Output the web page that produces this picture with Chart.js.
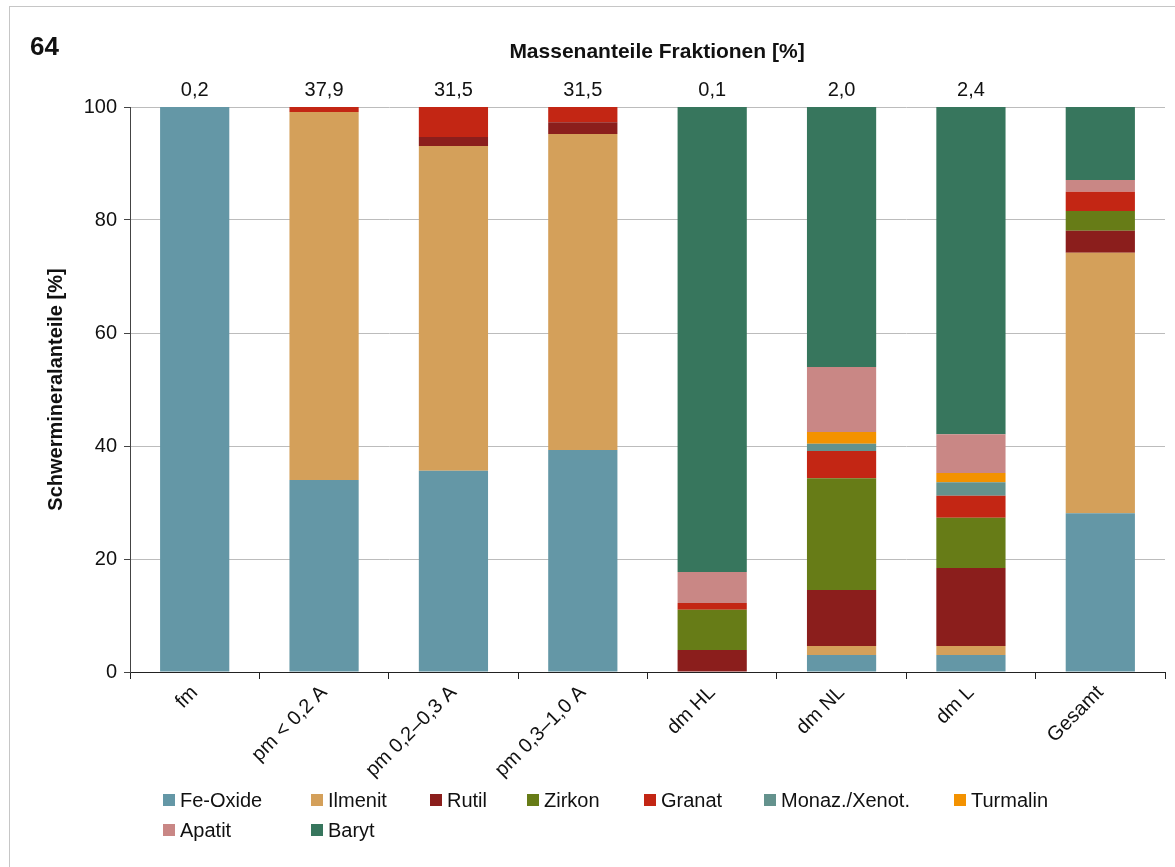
<!DOCTYPE html>
<html>
<head>
<meta charset="utf-8">
<script src="https://cdn.jsdelivr.net/npm/chart.js@4.4.1/dist/chart.umd.min.js"></script>
<style>
    body { margin: 0; background: #fff; font-family: "Liberation Sans", Arial, sans-serif; }
    #wrap { position: relative; width: 1175px; height: 867px; overflow: hidden; }
    #frame { position: absolute; left: 9px; top: 6px; width: 1200px; height: 900px; border: 1px solid #c6c6c6; }
    canvas { position: absolute; left: 0; top: 0; }
    #legend {
        position: absolute; left: 163px; top: 788px;
        display: grid; grid-template-columns: 148px 119px 97px 117px 120px 190px 120px;
        row-gap: 6px; font-size: 20px; color: #111;
    }
    .item { display: flex; align-items: center; white-space: nowrap; height: 24px; }
    .box { width: 12px; height: 12px; margin-right: 5px; }
</style>
</head>
<body>
<div id="wrap">
    <div id="frame"></div>
    <canvas id="chart" width="1175" height="867"></canvas>
    <div id="legend"></div>
</div>
<script>
// --- data ---
const categories = ['fm', 'pm < 0,2 A', 'pm 0,2–0,3 A', 'pm 0,3–1,0 A', 'dm HL', 'dm NL', 'dm L', 'Gesamt'];
const massenanteile = [0.2, 37.9, 31.5, 31.5, 0.1, 2.0, 2.4, null];

const feOxide   = [100, 34.0, 35.6, 39.3, 0,    3.0,  3.0,  28.1];
const ilmenit   = [0,   65.1, 57.5, 55.9, 0,    1.6,  1.6,  46.1];
const rutil     = [0,   0,    1.6,  2.1,  3.9,  9.9,  13.8, 3.9];
const zirkon    = [0,   0,    0,    0,    7.1,  19.8, 8.9,  3.5];
const granat    = [0,   0.9,  5.3,  2.7,  1.2,  4.8,  3.9,  3.4];
const monazXen  = [0,   0,    0,    0,    0,    1.3,  2.4,  0];
const turmalin  = [0,   0,    0,    0,    0,    2.1,  1.6,  0];
const apatit    = [0,   0,    0,    0,    5.5,  11.5, 6.9,  2.1];
const baryt     = [0,   0,    0,    0,    82.3, 46.0, 57.9, 12.9];

const yTicks = [0, 20, 40, 60, 80, 100];

const series = [
    { label: 'Fe-Oxide',       data: feOxide,  color: '#6497a6' },
    { label: 'Ilmenit',        data: ilmenit,  color: '#d4a05a' },
    { label: 'Rutil',          data: rutil,    color: '#8b1e1c' },
    { label: 'Zirkon',         data: zirkon,   color: '#677c17' },
    { label: 'Granat',         data: granat,   color: '#c32614' },
    { label: 'Monaz./Xenot.',  data: monazXen, color: '#64928d' },
    { label: 'Turmalin',       data: turmalin, color: '#f39200' },
    { label: 'Apatit',         data: apatit,   color: '#c98785' },
    { label: 'Baryt',          data: baryt,    color: '#37765d' }
];

const FONT = '"Liberation Sans", Arial, sans-serif';

// --- extra texts: panel number, top axis title, mass fractions ---
const topTexts = {
    id: 'topTexts',
    afterDraw(chart) {
        const ctx = chart.ctx;
        const x = chart.scales.x;
        ctx.save();
        ctx.fillStyle = '#111';
        ctx.textBaseline = 'middle';

        ctx.font = 'bold 26px ' + FONT;
        ctx.textAlign = 'left';
        ctx.fillText('64', 30, 48);

        ctx.font = 'bold 21px ' + FONT;
        ctx.textAlign = 'center';
        ctx.fillText('Massenanteile Fraktionen [%]', 657, 52);

        ctx.font = '20px ' + FONT;
        massenanteile.forEach((v, i) => {
            if (v === null) return;
            ctx.fillText(v.toFixed(1).replace('.', ','), x.getPixelForValue(i), 90);
        });
        ctx.restore();
    }
};

new Chart(document.getElementById('chart'), {
    type: 'bar',
    data: {
        labels: categories,
        datasets: series.map(s => ({
            label: s.label,
            data: s.data,
            backgroundColor: s.color,
            borderWidth: 0,
            categoryPercentage: 1,
            barPercentage: 0.535
        }))
    },
    options: {
        responsive: false,
        animation: false,
        devicePixelRatio: 1,
        layout: { padding: { top: 107, right: 10, bottom: 55, left: 0 } },
        plugins: {
            legend: { display: false },
            tooltip: { enabled: false }
        },
        scales: {
            x: {
                stacked: true,
                afterFit: (scale) => { scale.height = 140; },
                border: { color: '#222', width: 1 },
                grid: { offset: true, drawOnChartArea: false, drawTicks: true, tickLength: 7, tickColor: '#222' },
                ticks: {
                    minRotation: 45, maxRotation: 45, padding: 2,
                    color: '#111', font: { family: FONT, size: 20 }
                }
            },
            y: {
                stacked: true,
                min: 0, max: 100,
                afterFit: (scale) => { scale.width = 130; },
                afterBuildTicks: (scale) => { scale.ticks = yTicks.map(v => ({ value: v })); },
                border: { color: '#444', width: 1 },
                grid: { color: '#bcbcbc', lineWidth: 1, tickLength: 6, tickColor: '#444' },
                ticks: { padding: 7, color: '#111', font: { family: FONT, size: 20 } },
                title: {
                    display: true,
                    text: 'Schwermineralanteile [%]',
                    color: '#111',
                    font: { family: FONT, size: 20, weight: 'bold' },
                    padding: { top: 44, bottom: 0 }
                }
            }
        }
    },
    plugins: [topTexts]
});

// --- legend ---
const legendEl = document.getElementById('legend');
series.forEach(s => {
    const item = document.createElement('div');
    item.className = 'item';
    item.innerHTML = `<span class="box" style="background:${s.color}"></span>${s.label}`;
    legendEl.appendChild(item);
});
</script>
</body>
</html>
